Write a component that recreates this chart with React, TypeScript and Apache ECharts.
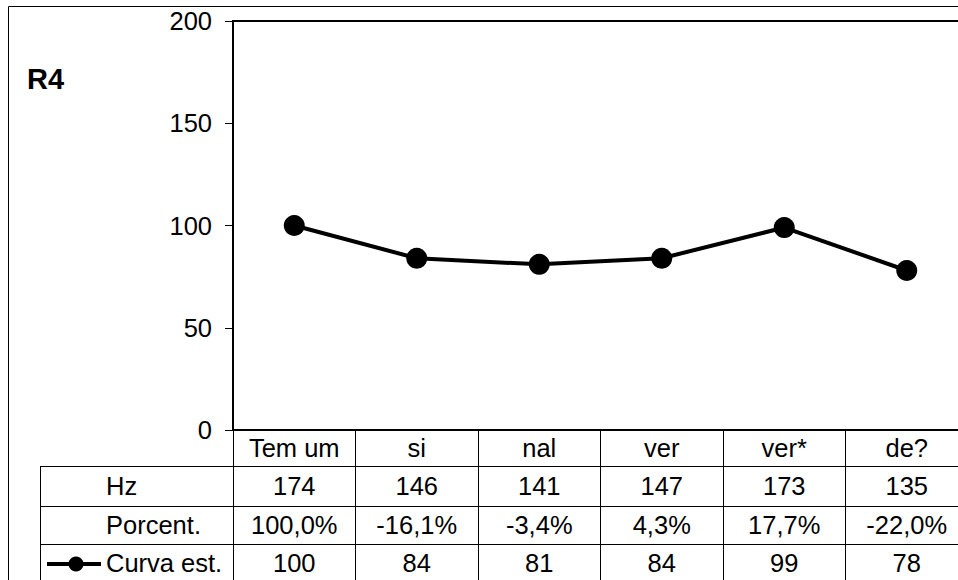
import React, { useEffect, useRef } from "react";
import * as echarts from "echarts";

const categories = ["Tem um", "si", "nal", "ver", "ver*", "de?"];
const hzValues = [174, 146, 141, 147, 173, 135];
const porcentValues = ["100,0%", "-16,1%", "-3,4%", "4,3%", "17,7%", "-22,0%"];
const curvaValues = [100, 84, 81, 84, 99, 78];
const rowLabels = ["Hz", "Porcent.", "Curva est."];
const chartTitle = "R4";
const yMin = 0;
const yMax = 200;
const yInterval = 50;

const FONT = "'Liberation Sans', Arial, sans-serif";
const FS = 25.5;

export default function App() {
  const ref = useRef<HTMLDivElement>(null);
  useEffect(() => {
    if (!ref.current) return;
    const chart = echarts.init(ref.current, null, { renderer: "svg" });
    const gridLeft = 233;
    const gridTop = 21;
    const axisY = 430;
    const option: any = {
      animation: false,
      backgroundColor: "#fff",
      grid: {
        left: gridLeft,
        top: gridTop,
        width: 735,
        height: axisY - gridTop,
        show: true,
        borderColor: "#000",
        borderWidth: 2,
        containLabel: false,
        outerBoundsMode: "none",
      },
      xAxis: {
        type: "category",
        data: categories,
        boundaryGap: true,
        axisLine: { show: true, lineStyle: { color: "#000", width: 2 } },
        axisTick: {
          show: true,
          interval: 0,
          length: 160,
          lineStyle: { color: "#000", width: 1 },
        },
        axisLabel: {
          interval: 0,
          margin: 5,
          color: "#000",
          fontSize: FS,
          fontFamily: FONT,
        },
        splitLine: { show: false },
      },
      yAxis: {
        type: "value",
        min: yMin,
        max: yMax,
        interval: yInterval,
        axisLine: { show: true, lineStyle: { color: "#000", width: 2 } },
        axisTick: { show: true, length: 8, lineStyle: { color: "#000", width: 1 } },
        axisLabel: { margin: 21, color: "#000", fontSize: FS, fontFamily: FONT },
        splitLine: { show: false },
      },
      series: [
        {
          type: "line",
          name: rowLabels[2],
          data: curvaValues,
          symbol: "circle",
          symbolSize: 21,
          lineStyle: { color: "#000", width: 4 },
          itemStyle: { color: "#000" },
          z: 5,
        },
      ],
    };
    chart.setOption(option);

    const centers = categories.map((c) => chart.convertToPixel({ xAxisIndex: 0 }, c) as number);
    const rowYs = [486, 525, 563];
    const lineColor = "#000";
    const graphics: any[] = [];
    graphics.push({
      type: "rect",
      shape: { x: 8.5, y: 6.5, width: 1200, height: 1200 },
      style: { fill: "none", stroke: "#000", lineWidth: 1 },
      silent: true,
    });
    graphics.push({
      type: "text",
      x: 27,
      y: 79,
      style: {
        text: chartTitle,
        fontSize: 29,
        fontWeight: "bold",
        fontFamily: FONT,
        fill: "#000",
        verticalAlign: "middle",
        align: "left",
      },
    });
    [466, 506, 544].forEach((y) => {
      graphics.push({
        type: "line",
        shape: { x1: 40, y1: y + 0.5, x2: 980, y2: y + 0.5 },
        style: { stroke: lineColor, lineWidth: 1 },
        silent: true,
      });
    });
    graphics.push({
      type: "line",
      shape: { x1: 40.5, y1: 466, x2: 40.5, y2: 600 },
      style: { stroke: lineColor, lineWidth: 1 },
      silent: true,
    });
    rowLabels.forEach((lab, i) => {
      graphics.push({
        type: "text",
        x: 106,
        y: rowYs[i],
        style: {
          text: lab,
          fontSize: FS,
          fontFamily: FONT,
          fill: "#000",
          align: "left",
          verticalAlign: "middle",
        },
      });
    });
    graphics.push({
      type: "line",
      shape: { x1: 47, y1: 564, x2: 101, y2: 564 },
      style: { stroke: "#000", lineWidth: 4 },
    });
    graphics.push({
      type: "circle",
      shape: { cx: 76, cy: 564, r: 7.5 },
      style: { fill: "#000" },
    });
    const rows = [hzValues.map(String), porcentValues, curvaValues.map(String)];
    rows.forEach((vals, r) => {
      vals.forEach((v, i) => {
        graphics.push({
          type: "text",
          x: centers[i],
          y: rowYs[r],
          style: {
            text: v,
            fontSize: FS,
            fontFamily: FONT,
            fill: "#000",
            align: "center",
            verticalAlign: "middle",
          },
        });
      });
    });
    chart.setOption({ graphic: graphics });
    return () => chart.dispose();
  }, []);
  return (
    <div
      ref={ref}
      style={{ position: "fixed", left: 0, top: 0, width: 958, height: 580, background: "#fff" }}
    />
  );
}
